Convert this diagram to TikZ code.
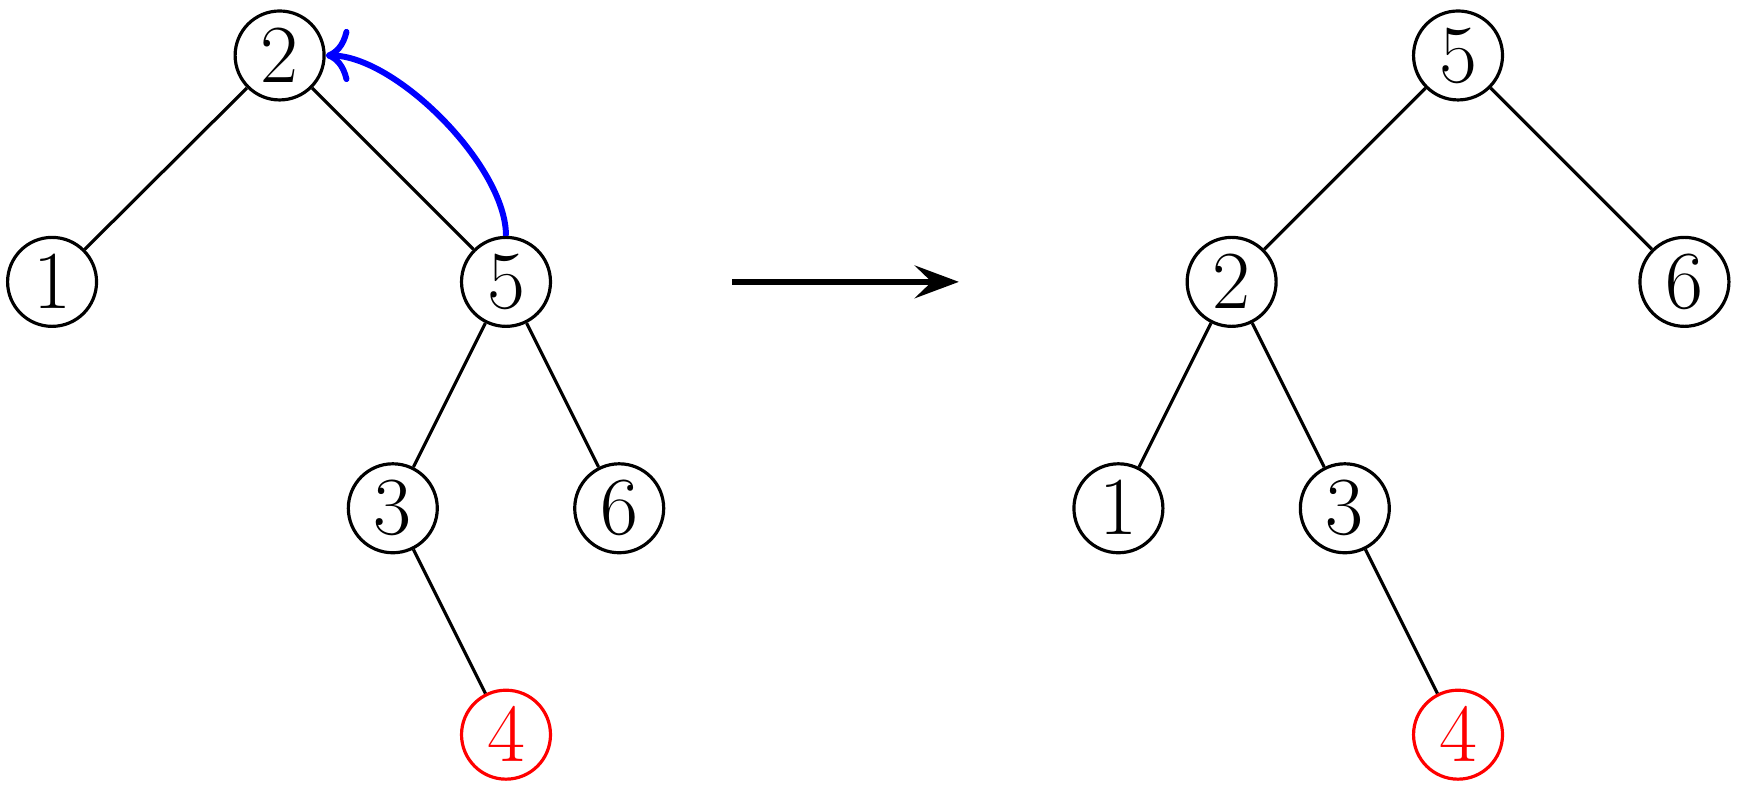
\documentclass[tikz,border=0pt]{standalone}
\usetikzlibrary{arrows.meta}
\begin{document}
\begin{tikzpicture}[
  tn/.style={circle,draw,line width=0.8pt,minimum size=0.786cm,inner sep=0pt,font=\huge},
  rn/.style={tn,red},
  edge/.style={line width=0.8pt}
]
\useasboundingbox (0,0) rectangle (15.371,-6.961);
% left tree
\node[tn] (a2) at (2.47,-0.49) {$2$};
\node[tn] (a1) at (0.46,-2.49) {$1$};
\node[tn] (a5) at (4.47,-2.49) {$5$};
\node[tn] (a3) at (3.47,-4.49) {$3$};
\node[tn] (a6) at (5.47,-4.49) {$6$};
\node[rn] (a4) at (4.47,-6.49) {$4$};
\draw[edge] (a2) -- (a1);
\draw[edge] (a2) -- (a5);
\draw[edge] (a5) -- (a3);
\draw[edge] (a5) -- (a6);
\draw[edge] (a3) -- (a4);
\draw[blue,line width=1.5pt,-{Computer Modern Rightarrow[length=0.21cm,width=0.47cm]}] (a5.north) to[out=90,in=0,looseness=0.7] (a2.east);
% arrow
\coordinate (s) at (6.47,-2.49);
\coordinate (e) at (8.47,-2.49);
\draw[line width=1.5pt,-{Stealth[length=0.39cm,width=0.29cm,inset=0.15cm]}] (s) -- (e);
% right tree
\node[tn] (b5) at (12.88,-0.49) {$5$};
\node[tn] (b2) at (10.88,-2.49) {$2$};
\node[tn] (b6) at (14.88,-2.49) {$6$};
\node[tn] (b1) at (9.88,-4.49) {$1$};
\node[tn] (b3) at (11.88,-4.49) {$3$};
\node[rn] (b4) at (12.88,-6.49) {$4$};
\draw[edge] (b5) -- (b2);
\draw[edge] (b5) -- (b6);
\draw[edge] (b2) -- (b1);
\draw[edge] (b2) -- (b3);
\draw[edge] (b3) -- (b4);
\end{tikzpicture}
\end{document}
